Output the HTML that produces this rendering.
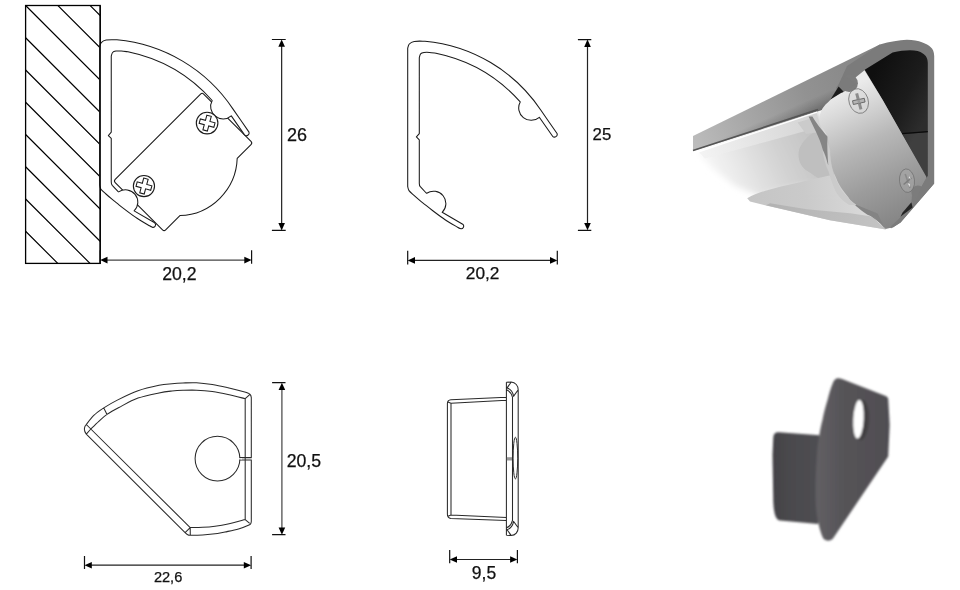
<!DOCTYPE html>
<html><head><meta charset="utf-8"><title>Profile drawing</title>
<style>
html,body{margin:0;padding:0;background:#fff;}
body{width:960px;height:590px;overflow:hidden;}
svg{display:block;}
text{font-family:"Liberation Sans",sans-serif;fill:#111;}
</style></head><body>
<svg width="960" height="590" viewBox="0 0 960 590">
<rect width="960" height="590" fill="#fff"/>
<clipPath id="wallclip"><rect x="25.6" y="5.5" width="74.6" height="257.9"/></clipPath><path d="M25.6,-91.25L145.6,28.75M25.6,-59L145.6,61M25.6,-26.75L145.6,93.25M25.6,5.5L145.6,125.5M25.6,37.75L145.6,157.75M25.6,70L145.6,190M25.6,102.25L145.6,222.25M25.6,134.5L145.6,254.5M25.6,166.75L145.6,286.75M25.6,199L145.6,319M25.6,231.25L145.6,351.25M25.6,263.5L145.6,383.5" stroke="#000" stroke-width="1.15" fill="none" clip-path="url(#wallclip)"/><rect x="25.6" y="5.5" width="74.6" height="257.9" fill="none" stroke="#000" stroke-width="1.3"/><path d="M203.66,94.06L250.99,141.39Q252.55,142.95 250.99,144.51L237.2,158.3A59.28,59.28 0 0,1 179.9,215.6L165.66,229.84Q164.1,231.4 162.54,229.84L115.21,182.51Q113.65,180.95 115.21,179.39L200.54,94.06Q202.1,92.5 203.66,94.06Z" fill="#fff" stroke="#1a1a1a" stroke-width="1.05" stroke-linejoin="round"/><path d="M407.7,186.5L407.7,48.2C407.97,47.5 408.22,45.13 409.3,44C410.38,42.87 411.58,41.87 414.2,41.4C416.82,40.93 423.2,41.23 425,41.2A156.8,156.8 0 0,1 540.75,110L549.2,122.2L557.05,133.5A2.7,2.7 0 0,1 552.6,136.3L539.33,117.28A12.45,12.45 0 0,1 520.23,101.92A153.89,153.89 0 0,0 436,53.2C434.9,53.07 431.4,52.52 429.4,52.4C427.4,52.28 425.47,52.25 424,52.5C422.53,52.75 421.38,53.05 420.6,53.9C419.82,54.75 419.52,56.98 419.3,57.6L419.3,133.6L416.4,136.95L419.3,139.8L419.3,183.4Q419.3,185.5 420.3,186.7L426.2,193L426.7,193.3A12.3,12.3 0 0,1 442.17,212.3L462.7,224.2A2.55,2.55 0 0,1 460.3,228.6C459.85,228.37 460.13,228.68 457.6,227.2C455.07,225.72 449.28,222.48 445.1,219.7C440.92,216.92 435.85,213.02 432.5,210.5C429.15,207.98 427.08,206.25 425,204.6C422.92,202.95 421.83,202.13 420,200.6C418.17,199.07 415.83,197.07 414,195.4C412.17,193.73 410.05,192.08 409,190.6C407.95,189.12 407.92,187.18 407.7,186.5Z" transform="translate(-308.05,-1.4)" fill="#fff" stroke="#1a1a1a" stroke-width="1.05" stroke-linejoin="round"/><path d="M100.2,5.5V264" stroke="#000" stroke-width="1.25"/><g transform="translate(207.1,123.1)"><circle r="10.8" fill="#fff" stroke="#1a1a1a" stroke-width="1.1"/><path d="M-2.3,-7.6L2.3,-7.6L2.3,-2.3L7.6,-2.3L7.6,2.3L2.3,2.3L2.3,7.6L-2.3,7.6L-2.3,2.3L-7.6,2.3L-7.6,-2.3L-2.3,-2.3Z" transform="rotate(15)" fill="none" stroke="#1a1a1a" stroke-width="1.05" stroke-linejoin="miter"/></g><g transform="translate(143.95,186.05)"><circle r="10.6" fill="#fff" stroke="#1a1a1a" stroke-width="1.1"/><path d="M-2.3,-7.6L2.3,-7.6L2.3,-2.3L7.6,-2.3L7.6,2.3L2.3,2.3L2.3,7.6L-2.3,7.6L-2.3,2.3L-7.6,2.3L-7.6,-2.3L-2.3,-2.3Z" transform="rotate(15)" fill="none" stroke="#1a1a1a" stroke-width="1.05" stroke-linejoin="miter"/></g><path d="M281.65,42.5V227.4" stroke="#222" stroke-width="1.2" fill="none"/><path d="M271.9,39.5H285.7M271.9,230.4H285.7" stroke="#111" stroke-width="1.2" fill="none"/><polygon points="281.65,39.5 278.35,46.8 284.95,46.8" fill="#000"/><polygon points="281.65,230.4 278.35,223.1 284.95,223.1" fill="#000"/><text x="287" y="141" font-size="18" opacity="0.999" stroke="#111" stroke-width="0.25">26</text><path d="M103.2,260.1H248.6" stroke="#444" stroke-width="1.25" fill="none"/><path d="M100.2,250.3V263.8M251.6,250.3V263.8" stroke="#111" stroke-width="1.2" fill="none"/><polygon points="100.2,260.1 107.5,256.8 107.5,263.4" fill="#000"/><polygon points="251.6,260.1 244.3,256.8 244.3,263.4" fill="#000"/><text x="162.2" y="279.6" font-size="17.7" opacity="0.999" stroke="#111" stroke-width="0.25">20,2</text><path d="M407.7,186.5L407.7,48.2C407.97,47.5 408.22,45.13 409.3,44C410.38,42.87 411.58,41.87 414.2,41.4C416.82,40.93 423.2,41.23 425,41.2A156.8,156.8 0 0,1 540.75,110L549.2,122.2L557.05,133.5A2.7,2.7 0 0,1 552.6,136.3L539.33,117.28A12.45,12.45 0 0,1 520.23,101.92A153.89,153.89 0 0,0 436,53.2C434.9,53.07 431.4,52.52 429.4,52.4C427.4,52.28 425.47,52.25 424,52.5C422.53,52.75 421.38,53.05 420.6,53.9C419.82,54.75 419.52,56.98 419.3,57.6L419.3,133.6L416.4,136.95L419.3,139.8L419.3,183.4Q419.3,185.5 420.3,186.7L426.2,193L426.7,193.3A12.3,12.3 0 0,1 442.17,212.3L462.7,224.2A2.55,2.55 0 0,1 460.3,228.6C459.85,228.37 460.13,228.68 457.6,227.2C455.07,225.72 449.28,222.48 445.1,219.7C440.92,216.92 435.85,213.02 432.5,210.5C429.15,207.98 427.08,206.25 425,204.6C422.92,202.95 421.83,202.13 420,200.6C418.17,199.07 415.83,197.07 414,195.4C412.17,193.73 410.05,192.08 409,190.6C407.95,189.12 407.92,187.18 407.7,186.5Z" fill="#fff" stroke="#1a1a1a" stroke-width="1.05" stroke-linejoin="round"/><path d="M587.5,42.6V227.3" stroke="#222" stroke-width="1.2" fill="none"/><path d="M577.9,39.6H591.3M577.9,230.3H591.3" stroke="#111" stroke-width="1.2" fill="none"/><polygon points="587.5,39.6 584.2,46.9 590.8,46.9" fill="#000"/><polygon points="587.5,230.3 584.2,223 590.8,223" fill="#000"/><text x="592.6" y="139.7" font-size="16.8" opacity="0.999" stroke="#111" stroke-width="0.25">25</text><path d="M410.7,260.4H554.3" stroke="#222" stroke-width="1.2" fill="none"/><path d="M407.7,250.8V264.4M557.3,250.8V264.4" stroke="#111" stroke-width="1.2" fill="none"/><polygon points="407.7,260.4 415,257.1 415,263.7" fill="#000"/><polygon points="557.3,260.4 550,257.1 550,263.7" fill="#000"/><text x="465.8" y="279.3" font-size="17.3" opacity="0.999" stroke="#111" stroke-width="0.25">20,2</text><path d="M84.4,428.9C84.48,428.52 84.58,427.33 84.9,426.6C85.22,425.87 84.82,426.37 86.3,424.5C87.78,422.63 90.88,418.17 93.8,415.4C96.72,412.63 99.88,410.45 103.8,407.9C107.72,405.35 111.6,402.96 117.3,400.1C123,397.24 131.05,393.22 138,390.75C144.95,388.28 153.33,386.48 159,385.3C164.67,384.12 168,384.08 172,383.7C176,383.32 178.92,383.15 183,383C187.08,382.85 191.62,382.53 196.5,382.8C201.38,383.07 207.05,383.77 212.3,384.6C217.55,385.43 222.75,386.62 228,387.8C233.25,388.98 240.37,390.77 243.8,391.7C247.23,392.63 247.47,392.83 248.6,393.4C249.73,393.97 250.15,394.4 250.6,395.1C251.05,395.8 251.18,397.18 251.3,397.6L251.3,457.6M251.3,460L251.3,521.3C251.22,521.65 251.18,522.8 250.8,523.4C250.42,524 251.05,523.98 249,524.9C246.95,525.82 242.5,527.72 238.5,528.9C234.5,530.08 228.5,531.23 225,532C221.5,532.77 221.23,533.02 217.5,533.5C213.77,533.98 207.12,534.62 202.6,534.9C198.08,535.18 192.87,535.22 190.4,535.2C187.93,535.18 188.68,535.22 187.8,534.8C186.92,534.38 185.55,533.05 185.1,532.7L86.3,434.1Q84.2,431.6 84.4,428.9M90.4,429.5C91.8,428.13 96.03,423.82 98.8,421.3C101.57,418.78 103.65,416.7 107,414.4C110.35,412.1 113.73,410.22 118.9,407.5C124.07,404.78 131.32,400.53 138,398.1C144.68,395.67 153.33,394.08 159,392.9C164.67,391.72 168,391.43 172,391C176,390.57 178.92,390.43 183,390.3C187.08,390.17 191.62,390 196.5,390.2C201.38,390.4 207.05,390.8 212.3,391.5C217.55,392.2 222.52,393.2 228,394.4C233.48,395.6 242.33,397.98 245.2,398.7L245.2,519.6C242.33,520.33 233.03,522.9 228,524C222.97,525.1 219.23,525.65 215,526.2C210.77,526.75 206.73,527.07 202.6,527.3C198.47,527.53 192.27,527.55 190.2,527.6L86.3,424.5M103.8,408.1L107,414.4M86.3,434.2L90.4,429.5M245.2,398.7L249.7,394.6M245.2,519.6L249.7,523.4M190.2,527.6L190.3,535.2M190.2,527.6L185.1,532.7M239.8,457.6L251.8,457.6M239.8,460L251.8,460" fill="none" stroke="#2a2a2a" stroke-width="1.05" stroke-linejoin="round"/><circle cx="217.5" cy="458.6" r="22.4" fill="none" stroke="#2a2a2a" stroke-width="1.05"/><rect x="239" y="458.2" width="3" height="1.2" fill="#fff"/><path d="M281.9,385.7V531.7" stroke="#4a4a4a" stroke-width="1.25" fill="none"/><path d="M272.1,382.7H285.5M272.1,534.7H285.5" stroke="#111" stroke-width="1.2" fill="none"/><polygon points="281.9,382.7 278.6,390 285.2,390" fill="#000"/><polygon points="281.9,534.7 278.6,527.4 285.2,527.4" fill="#000"/><text x="286.7" y="466.5" font-size="17.7" opacity="0.999" stroke="#111" stroke-width="0.25">20,5</text><path d="M87.5,565.2H248.1" stroke="#222" stroke-width="1.2" fill="none"/><path d="M84.5,555.9V569.1M251.1,555.9V569.1" stroke="#111" stroke-width="1.2" fill="none"/><polygon points="84.5,565.2 91.8,561.9 91.8,568.5" fill="#000"/><polygon points="251.1,565.2 243.8,561.9 243.8,568.5" fill="#000"/><text x="153.9" y="582.3" font-size="14.6" opacity="0.999" stroke="#111" stroke-width="0.25">22,6</text><path d="M506.4,397.3L450.9,399.7Q447.4,400 447.4,403.6L447.4,514.3Q447.4,518 450.9,518.4L506.4,520.6M506.4,400.3L451,403.2L451,515L506.4,517.5M447.9,402L451,403.2M447.9,516.2L451,515M506.4,382.3L506.4,535.3M512.5,396.8L512.5,521M518.2,389.8L518.2,527.8M506.4,382.3L511.1,382.1C515.5,382.3 518.2,385.8 518.2,389.8L513.3,396.6M511.1,382.2L507.1,387.9C510.5,389 512.8,392.2 513.6,395.9M506.6,389.8C509.5,391 511.6,393.6 512.4,397M506.4,535.3L511.1,535.5C515.5,535.3 518.2,531.8 518.2,527.8L513.3,521M511.1,535.4L507.1,529.7C510.5,528.6 512.8,525.4 513.6,521.7M506.6,527.8C509.5,526.6 511.6,524 512.4,520.6" fill="none" stroke="#2a2a2a" stroke-width="1.05" stroke-linejoin="round"/><ellipse cx="515.4" cy="458.1" rx="2.3" ry="20.8" fill="#fff" stroke="#2a2a2a" stroke-width="1.0"/><rect x="506.9" y="457.2" width="5.1" height="3.3" fill="#999"/><path d="M452.7,559.5H514.4" stroke="#222" stroke-width="1.2" fill="none"/><path d="M449.7,550.1V563.3M517.4,550.1V563.3" stroke="#111" stroke-width="1.2" fill="none"/><polygon points="449.7,559.5 457,556.2 457,562.8" fill="#000"/><polygon points="517.4,559.5 510.1,556.2 510.1,562.8" fill="#000"/><text x="471.8" y="578.8" font-size="17.5" opacity="0.999" stroke="#111" stroke-width="0.25">9,5</text><g id="photo1"><defs><filter id="b1" x="-20%" y="-20%" width="140%" height="140%"><feGaussianBlur stdDeviation="0.7"/></filter><filter id="b3" x="-20%" y="-20%" width="140%" height="140%"><feGaussianBlur stdDeviation="3"/></filter><filter id="b6" x="-30%" y="-30%" width="160%" height="160%"><feGaussianBlur stdDeviation="6"/></filter><linearGradient id="gBand" gradientUnits="userSpaceOnUse" x1="693" y1="143" x2="880" y2="60"><stop offset="0" stop-color="#bcbcbc"/><stop offset="0.3" stop-color="#a6a6a6"/><stop offset="0.6" stop-color="#929292"/><stop offset="1" stop-color="#848484"/></linearGradient><linearGradient id="gBandS" gradientUnits="userSpaceOnUse" x1="693" y1="150.9" x2="700.3" y2="167.4"><stop offset="0" stop-color="#000" stop-opacity="0"/><stop offset="0.35" stop-color="#000" stop-opacity="0.1"/><stop offset="0.8" stop-color="#000" stop-opacity="0.26"/><stop offset="1" stop-color="#000" stop-opacity="0.36"/></linearGradient><linearGradient id="gUnder" gradientUnits="userSpaceOnUse" x1="700" y1="190" x2="830" y2="130"><stop offset="0" stop-color="#fff"/><stop offset="0.2" stop-color="#f0f0f0"/><stop offset="0.6" stop-color="#d2d2d2"/><stop offset="1" stop-color="#bdbdbd"/></linearGradient><linearGradient id="gUnder2" gradientUnits="userSpaceOnUse" x1="700" y1="160" x2="820" y2="120"><stop offset="0" stop-color="#f4f4f4"/><stop offset="1" stop-color="#d2d2d2"/></linearGradient><linearGradient id="gCav" gradientUnits="userSpaceOnUse" x1="870" y1="80" x2="930" y2="110"><stop offset="0" stop-color="#0f0f0f"/><stop offset="0.6" stop-color="#1c1c1c"/><stop offset="1" stop-color="#2d2d2d"/></linearGradient><linearGradient id="gBr" gradientUnits="userSpaceOnUse" x1="838" y1="92" x2="900" y2="222"><stop offset="0" stop-color="#ebebeb"/><stop offset="0.14" stop-color="#dadada"/><stop offset="0.4" stop-color="#b8b8b8"/><stop offset="0.7" stop-color="#9c9c9c"/><stop offset="1" stop-color="#858585"/></linearGradient><linearGradient id="gShadow" gradientUnits="userSpaceOnUse" x1="750" y1="200" x2="860" y2="190"><stop offset="0" stop-color="#c5c5c5"/><stop offset="0.5" stop-color="#cacaca"/><stop offset="1" stop-color="#d8d8d8"/></linearGradient><linearGradient id="gShadow2" gradientUnits="userSpaceOnUse" x1="766" y1="205" x2="886" y2="228"><stop offset="0" stop-color="#b2b2b2"/><stop offset="1" stop-color="#c4c4c4"/></linearGradient><clipPath id="cp1"><rect x="680" y="30" width="270" height="215"/></clipPath></defs><polygon points="698,153 816,110 832,150 842,185 800,186 760,196 735,186 712,168" fill="url(#gUnder)" filter="url(#b3)"/><polygon points="699,152.5 816,111 820,127 705,158.5" fill="url(#gUnder2)" filter="url(#b1)"/><path d="M814.6,131.5 C805,138 798.5,146 798.5,154.2 C798.5,162 802,168 807.8,171.2 C812,174 816,177 819.7,178.8 L842,182 L836,138 Z" fill="#bfbfbf" filter="url(#b1)"/><polygon points="797.6,122.4 811,118.6 819.7,132 806,134" fill="#cbcbcb" filter="url(#b1)"/><path d="M747.2,198.3 C756,193 770,189 790,184.5 L836,174 L860,205 L886,229.6 L830,220.2 L766,205.6 L750,201.5 Z" fill="url(#gShadow)" filter="url(#b1)"/><polygon points="766,205.3 830,220.2 886,229.6 872,216.5 850,213.3 806.7,209.2 770,203.2" fill="url(#gShadow2)" filter="url(#b1)"/><polygon points="693,136.1 879.8,44.5 895,60 850,92 822,110 693,150.9" fill="url(#gBand)" /><polygon points="693,150.9 830,90 850,92 822,110" fill="url(#gBandS)" /><path d="M693,150.6 L818,109.6" stroke="#545454" stroke-width="1.6" fill="none" filter="url(#b1)"/><path d="M696,152.6 L817,112.2" stroke="#fff" stroke-width="1.3" fill="none" filter="url(#b1)"/><path d="M879.8,44.5 C890,41.5 899,40 906.9,39.7 C913,39.8 918,40.6 922.5,42.5 C929,45 934.2,48 934.2,56 L934.2,183.5 L900.6,222.5 L891.3,228.2 L884,226 L850,200 L826,112 L837,88 L847,66 Z" fill="#7b7b7b" /><path d="M892.6,52.6 C899,51 905,50.4 910,50.3 C916,50.4 920,51.4 922.8,53.4 C926,55.4 927.8,58 927.8,63 L927.8,176.5 L926.4,178 L882.7,100 L864.7,69.8 Z" fill="url(#gCav)" /><path d="M902.4,134.2 L927.8,132.2 L927.8,176.5 L926.4,178 Z" fill="#fff" fill-opacity="0.09"/><path d="M902,133.6 L927.8,131.6" stroke="#0a0a0a" stroke-width="1.3" fill="none"/><path d="M864.5,70.2 L882.7,100 L926.6,177.2 L921.8,186 L912,203 L892,227.5 L885.6,229 C873,214 858,207 851,200.7 C843,191 838,184 836.4,178.6 C832,168 830.5,163 830.2,158.9 C829.5,150 829,144 827.8,138 C825,130 820,126 819.2,122 C819,114 822,107 827.8,102.4 L840,90 Z" fill="url(#gBr)" /><path d="M826.5,138 C823.5,143 822.6,147 822.6,151 C824,160 826,166 828.6,171.6 C831,180 833,186 835.8,191.8 C839,197 843,201.5 848.8,204.7 L857,205.6 C850,200 845,195 841.6,190.3 C838,184 835,178 833,171.6 C831,164 830.3,157 830,150 Z" fill="#cbcbcb" filter="url(#b1)"/><path d="M808.6,116.6 L812.4,116.4 C818,126 824,132 827.4,136.6 C827,146 827.6,156 828.3,165.6 C826,157 824.5,153 823,150.4 C821,143 819,138 816.3,132.4 Z" fill="#858585" /><path d="M856,204.7 L877.6,213.4 L885.2,229.2 C880,222 877,219.5 874.7,217.7 C871,216 869,215.5 867.5,214.8 C863,211.5 859,208.5 855.3,205.4 Z" fill="#848484" /><circle cx="849.2" cy="83.2" r="8.7" fill="#7c7c7c"/><path d="M836,88 L845,76 L856,84 L842,93 Z" fill="#7b7b7b" /><path d="M838.6,86.4 L843.5,91.6 L834.5,97 L830.5,99.5 Z" fill="#1e1e1e" filter="url(#b1)"/><circle cx="917.9" cy="192" r="6.6" fill="#7c7c7c"/><path d="M912,195 L911.4,202.5 L918,200 Z" fill="#7c7c7c" /><path d="M927.8,176 L934.2,183.5 L900.6,222.5 L893,227.6 L890.6,226.4 L899.5,218.6 L912.5,207.5 L918,196 L922,186 Z" fill="#7b7b7b" /><path d="M911.4,202.2 L902.6,212.6 L900.4,216.8 L912.6,207.6 Z" fill="#242424" /><g transform="translate(858.6,101) rotate(-18)"><ellipse rx="9.6" ry="12.6" fill="#d8d8d8" fill-opacity="0.5" stroke="#6a6a6a" stroke-width="0.7"/></g><g transform="translate(858.8,101.4)"><rect x="-1.5" y="-8.3" width="3" height="16.6" fill="#8c8c8c" transform="rotate(-15)"/><rect x="-6" y="-1.9" width="12" height="3.8" fill="#b4b4b4" stroke="#5c5c5c" stroke-width="0.8" transform="rotate(-12)"/><rect x="-1.3" y="-2" width="2.6" height="4" fill="#9a9a9a" transform="rotate(-15)"/></g><g transform="translate(907,180.7) rotate(-6)"><ellipse rx="7.5" ry="11.8" fill="#b0b0b0" fill-opacity="0.4" stroke="#6c6c6c" stroke-width="0.7"/></g><g transform="translate(907.2,180.9)"><path d="M-2,-7 L2.8,7" stroke="#8a8a8a" stroke-width="1.6" fill="none"/><path d="M-3.6,3.6 L4.2,-3" stroke="#7e7e7e" stroke-width="1.5" fill="none"/><path d="M1.5,-3.5 L3.6,-1.2 L2.6,-4.6 Z M0.4,2 L2.4,6.4 L2.8,3 Z" fill="#e4e4e4"/></g></g><g id="photo2"><defs><filter id="pb" x="-10%" y="-10%" width="120%" height="120%"><feGaussianBlur stdDeviation="0.8"/></filter><linearGradient id="gPlug" gradientUnits="userSpaceOnUse" x1="773" y1="0" x2="820" y2="0"><stop offset="0" stop-color="#434246"/><stop offset="0.4" stop-color="#4b4a4e"/><stop offset="1" stop-color="#4f4e52"/></linearGradient><linearGradient id="gFace" gradientUnits="userSpaceOnUse" x1="815" y1="0" x2="890" y2="0"><stop offset="0" stop-color="#626064"/><stop offset="0.12" stop-color="#5e5c60"/><stop offset="0.4" stop-color="#555357"/><stop offset="1" stop-color="#504e52"/></linearGradient></defs><g filter="url(#pb)"><path d="M778.8,432.2 L819.4,435.3 L818,524 L780.3,520.6 C776,520 774,515 773.3,502 L772.5,455 L773.3,437.5 C773.6,433.5 775.5,432.2 778.8,432.2 Z" fill="url(#gPlug)" /><path d="M836.6,378.6 C838,377.8 840,378.3 842,379 L885,395.8 C887.5,396.8 888.3,398 888.3,400 L889.7,424.7 L888.2,456.5 L833,538.5 C830,541.5 826,541.5 823.3,538.6 C820.5,533 817.5,522 816.3,509.7 C815,495 815.6,475 817,455 C818,440 821,425 822.5,420 C824,412 826,405 827.2,401.3 C829,394 831,387 833.4,381.7 C834.3,380 835.3,379.2 836.6,378.6 Z" fill="url(#gFace)" /><ellipse cx="861.3" cy="420" rx="7.8" ry="20" fill="#423f43" transform="rotate(3 861.3 420)"/><ellipse cx="858.5" cy="419.2" rx="5.2" ry="19.3" fill="#fff" transform="rotate(3 858.5 419.2)"/></g></g>
</svg>
</body></html>
